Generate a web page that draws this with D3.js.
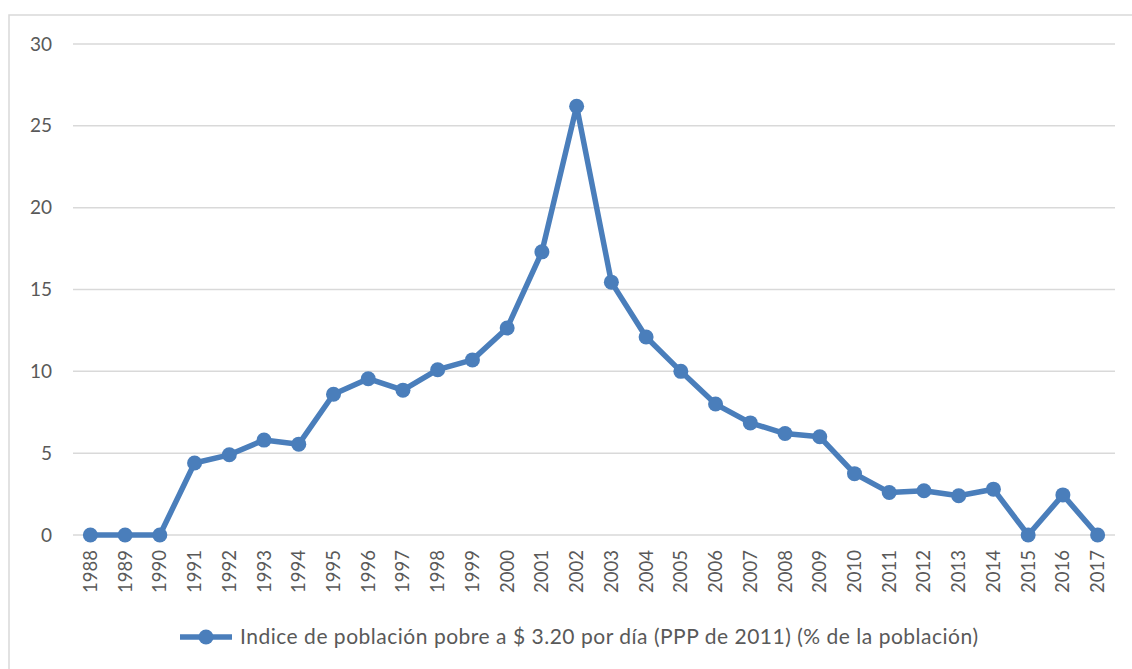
<!DOCTYPE html>
<html>
<head>
<meta charset="utf-8">
<script src="https://cdn.jsdelivr.net/npm/d3@7.9.0/dist/d3.min.js"></script>
<style>
  body { margin: 0; background: #fff; }
  svg text { font-family: Lato, "Open Sans", sans-serif; fill: #595959; }
</style>
</head>
<body>
<svg id="chart" width="1132" height="669"></svg>
<script>
const years = ['1988','1989','1990','1991','1992','1993','1994','1995','1996','1997',
  '1998','1999','2000','2001','2002','2003','2004','2005','2006','2007',
  '2008','2009','2010','2011','2012','2013','2014','2015','2016','2017'];
const values = [0, 0, 0, 4.4, 4.9, 5.8, 5.55, 8.6, 9.55, 8.85,
  10.1, 10.7, 12.65, 17.3, 26.2, 15.45, 12.1, 10.0, 8.0, 6.85,
  6.2, 6.0, 3.75, 2.6, 2.7, 2.4, 2.8, 0, 2.45, 0];
const yTicks = [0, 5, 10, 15, 20, 25, 30];
const seriesName = 'Indice de población pobre a $ 3.20 por día (PPP de 2011) (% de la población)';

const color = '#4a7ebb';
const svg = d3.select('#chart');

// outer frame
svg.append('rect')
  .attr('x', 9).attr('y', 15)
  .attr('width', 1140).attr('height', 700)
  .attr('fill', 'none').attr('stroke', '#d9d9d9').attr('stroke-width', 1.5);

const x = d3.scaleBand().domain(years).range([73, 1115]);
const y = d3.scaleLinear().domain([0, 30]).range([535, 44]);

// grid
svg.append('g').selectAll('line')
  .data(yTicks)
  .join('line')
  .attr('x1', 73).attr('x2', 1115)
  .attr('y1', d => y(d)).attr('y2', d => y(d))
  .attr('stroke', '#d9d9d9').attr('stroke-width', 1.5);

// y labels
svg.append('g').selectAll('text')
  .data(yTicks)
  .join('text')
  .attr('x', 52).attr('y', d => y(d))
  .attr('dy', '0.35em')
  .attr('text-anchor', 'end')
  .attr('font-size', 19)
  .text(d => d);

// x labels
svg.append('g').selectAll('text')
  .data(years)
  .join('text')
  .attr('transform', d => `translate(${x(d) + x.bandwidth() / 2},550) rotate(-90)`)
  .attr('dy', '0.35em')
  .attr('text-anchor', 'end')
  .attr('font-size', 18.5)
  .text(d => d);

const cx = (d, i) => x(years[i]) + x.bandwidth() / 2;

svg.append('path')
  .datum(values)
  .attr('d', d3.line().x(cx).y(d => y(d)))
  .attr('fill', 'none')
  .attr('stroke', color)
  .attr('stroke-width', 5.5)
  .attr('stroke-linejoin', 'round');

svg.append('g').selectAll('circle')
  .data(values)
  .join('circle')
  .attr('cx', cx).attr('cy', d => y(d))
  .attr('r', 7.5)
  .attr('fill', color);

// legend
const lg = svg.append('g').attr('transform', 'translate(0,637)');
lg.append('line')
  .attr('x1', 180).attr('x2', 232).attr('y1', 0).attr('y2', 0)
  .attr('stroke', color).attr('stroke-width', 5.5);
lg.append('circle').attr('cx', 206).attr('cy', 0).attr('r', 7.5).attr('fill', color);
lg.append('text')
  .attr('x', 240).attr('y', 0).attr('dy', '0.35em')
  .attr('font-size', 21)
  .attr('textLength', 738)
  .attr('lengthAdjust', 'spacing')
  .text(seriesName);
</script>
</body>
</html>
